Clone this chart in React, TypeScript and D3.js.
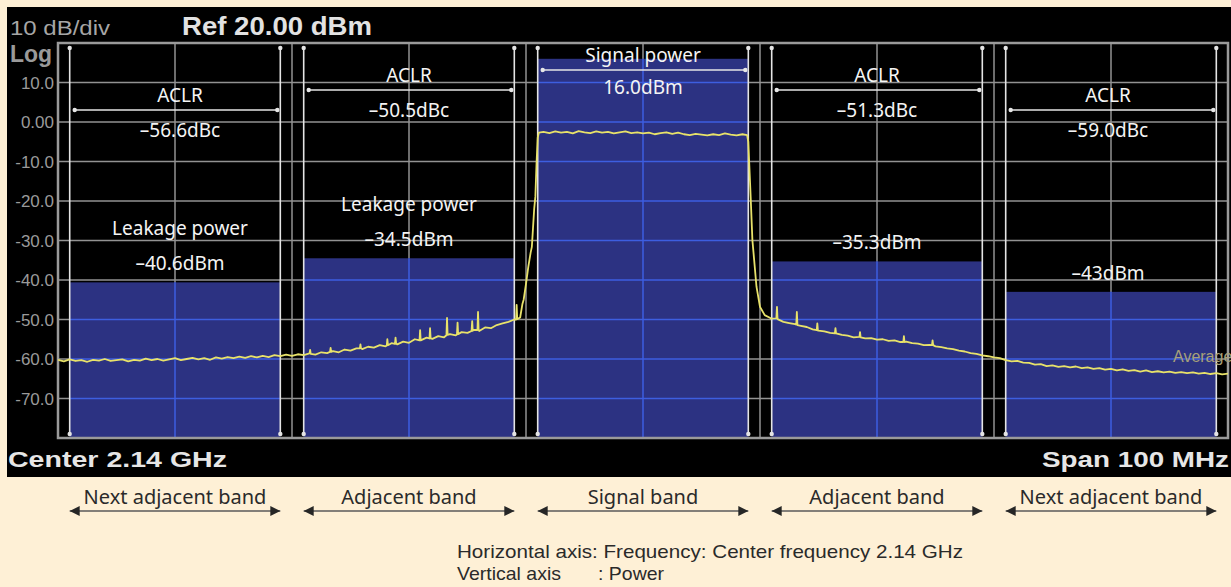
import * as d3 from "d3"

// spectrum analyzer ACLR screenshot, 10 dB/div, span 100 MHz
const W = 1231
const H = 587

const bandLabels = ["Next adjacent band", "Adjacent band", "Signal band", "Adjacent band", "Next adjacent band"]
const bandStartMHz = [-49, -29, -9, 11, 31]
const bandEndMHz = [-31, -11, 9, 29, 49]
const bandPowerDbm = [-40.6, -34.5, 16.0, -35.3, -43]
const powerText = ["–40.6dBm", "–34.5dBm", "16.0dBm", "–35.3dBm", "–43dBm"]
const aclrText = ["–56.6dBc", "–50.5dBc", "", "–51.3dBc", "–59.0dBc"]
const leakageShown = [true, true, false, false, false]

const yTickLabels = ["10.0", "0.00", "-10.0", "-20.0", "-30.0", "-40.0", "-50.0", "-60.0", "-70.0"]
const yTickValues = [10, 0, -10, -20, -30, -40, -50, -60, -70]

// trace: [MHz offset, dBm]
const traceLower: [number, number][] = [
    [-50, -60.2], [-49.5, -60.6], [-49, -60.1], [-48.5, -60.5], [-48, -60.3], [-47.5, -60.7], [-47, -60.2],
    [-46.5, -60.4], [-46, -60.0], [-45.5, -60.5], [-45, -60.3], [-44.5, -60.1], [-44, -60.6], [-43.5, -60.2],
    [-43, -60.4], [-42.5, -59.9], [-42, -60.3], [-41.5, -60.0], [-41, -60.4], [-40.5, -60.1], [-40, -59.8],
    [-39.5, -60.3], [-39, -60.0], [-38.5, -59.7], [-38, -60.1], [-37.5, -59.8], [-37, -60.2], [-36.5, -59.6],
    [-36, -59.9], [-35.5, -59.5], [-35, -59.8], [-34.5, -59.4], [-34, -59.7], [-33.5, -59.3], [-33, -59.6],
    [-32.5, -59.2], [-32, -59.5], [-31.5, -59.0], [-31, -59.3], [-30.5, -58.9], [-30, -59.2], [-29.5, -58.8],
    [-29, -59.0], [-28.5, -58.6], [-28.45, -57.7], [-28.4, -58.7], [-28, -58.9], [-27.5, -58.3], [-27, -58.5],
    [-26.75, -58.2], [-26.7, -57.2], [-26.65, -58.2], [-26.5, -58.0], [-26, -58.3], [-25.5, -57.6], [-25, -57.9],
    [-24.5, -57.3], [-24.2, -57.3], [-24.15, -56.3], [-24.1, -57.3], [-24, -57.5], [-23.5, -56.9], [-23, -57.1],
    [-22.5, -56.5], [-22, -56.8], [-21.9, -56.6], [-21.85, -55.0], [-21.8, -56.5], [-21.5, -56.0], [-21.2, -56.2],
    [-21.15, -54.6], [-21.1, -56.1], [-21, -56.3], [-20.5, -55.6], [-20, -55.9], [-19.5, -55.0], [-19.1, -55.3],
    [-19.05, -52.7], [-19, -55.3], [-18.5, -54.6], [-18.25, -54.8], [-18.2, -52.2], [-18.15, -54.8], [-18, -54.9],
    [-17.5, -54.2], [-17, -54.5], [-16.8, -54.0], [-16.75, -49.6], [-16.7, -53.9], [-16.5, -53.7], [-16, -54.0],
    [-15.9, -53.8], [-15.85, -50.8], [-15.8, -53.7], [-15.5, -53.2], [-15, -53.4], [-14.65, -52.9], [-14.6, -50.4],
    [-14.55, -52.9], [-14.5, -52.6], [-14.15, -52.7], [-14.1, -48.1], [-14.05, -52.6], [-14, -52.9], [-13.5, -52.0],
    [-13, -52.2], [-12.5, -51.4], [-12, -51.0], [-11.5, -50.6], [-11, -50.0], [-10.85, -50.0], [-10.8, -46.3],
    [-10.75, -49.9],
]

const traceMain: [number, number][] = [
    [-10.5, -49.5], [-10.3, -46.0], [-10.2, -45.0], [-10.0, -41.0], [-9.8, -36.6], [-9.6, -33.0], [-9.5, -31.6],
    [-9.3, -22.0], [-9.2, -18.9], [-9.1, -10.5], [-9.0, -4.0], [-8.9, -2.7], [-8.5, -2.5], [-8, -2.8], [-7.5, -2.4],
    [-7, -2.7], [-6.5, -2.5], [-6, -2.9], [-5.5, -2.3], [-5, -2.6], [-4.5, -2.8], [-4, -2.4], [-3.5, -2.7],
    [-3, -2.5], [-2.5, -2.9], [-2, -2.6], [-1.5, -2.4], [-1, -2.8], [-0.5, -2.6], [0, -2.9], [0.5, -2.7],
    [1, -3.1], [1.5, -2.8], [2, -2.6], [2.5, -3.0], [3, -2.7], [3.5, -3.1], [4, -3.3], [4.5, -3.0], [5, -3.2],
    [5.5, -3.4], [6, -3.1], [6.5, -3.3], [7, -2.9], [7.5, -3.2], [8, -3.4], [8.5, -3.1], [8.9, -3.3], [9.0, -5.0],
    [9.2, -18.9], [9.35, -29.9], [9.5, -34.9], [9.7, -41.7], [10.0, -46.8], [10.4, -48.9], [10.8, -49.5], [11.0, -49.8],
]

const traceUpper: [number, number][] = [
    [11.4, -49.7], [11.45, -46.8], [11.5, -49.9], [12, -50.6], [12.5, -50.9], [13, -51.2], [13.1, -51.3],
    [13.15, -48.1], [13.2, -51.4], [13.5, -51.6], [14, -51.9], [14.5, -52.5], [14.85, -52.7], [14.9, -51.0],
    [14.95, -52.8], [15, -52.8], [15.5, -53.0], [16, -53.4], [16.4, -53.5], [16.45, -52.2], [16.5, -53.5],
    [17, -53.9], [17.5, -54.1], [18, -54.5], [18.5, -54.4], [18.55, -53.2], [18.6, -54.5], [19, -54.8],
    [19.5, -54.7], [20, -55.1], [20.5, -55.0], [21, -55.4], [21.5, -55.3], [22, -55.7], [22.25, -55.7],
    [22.3, -54.2], [22.35, -55.7], [22.5, -55.6], [23, -56.0], [23.5, -56.1], [24, -56.5], [24.5, -56.4],
    [24.7, -56.5], [24.75, -55.3], [24.8, -56.5], [25, -56.8], [25.5, -57.0], [26, -57.3], [26.5, -57.5],
    [27, -57.9], [27.5, -58.1], [28, -58.5], [28.5, -58.7], [29, -59.1], [29.5, -59.3], [30, -59.6],
    [30.5, -59.8], [31, -60.3], [31.5, -60.6], [32, -60.5], [32.5, -60.9], [33, -61.0], [33.5, -61.4],
    [34, -61.3], [34.5, -61.8], [35, -61.6], [35.5, -62.0], [36, -61.8], [36.5, -62.1], [37, -61.9],
    [37.5, -62.3], [38, -62.1], [38.5, -62.5], [39, -62.3], [39.5, -62.7], [40, -62.5], [40.5, -62.9],
    [41, -62.6], [41.5, -63.0], [42, -62.8], [42.5, -63.2], [43, -62.9], [43.5, -63.3], [44, -63.1],
    [44.5, -63.4], [45, -63.2], [45.5, -63.5], [46, -63.3], [46.5, -63.6], [47, -63.4], [47.5, -63.7],
    [48, -63.5], [48.5, -63.8], [49, -63.6], [49.5, -63.9], [50, -63.7],
]

const instFont = "'Liberation Sans', Arial, sans-serif"
const noteFont = "'Noto Sans', 'Open Sans', sans-serif"

// annotation layout per band: y of the ACLR marker line (px) and x nudge
const markerY = [110, 90, 70, 90, 110]
const labelDx = [5, 0, 0, 0, -3]

export default function App() {
    const x = d3.scaleLinear().domain([-50, 50]).range([58, 1228])
    const y = d3.scaleLinear().domain([-80, 20]).range([438, 43])
    const [x0, x1] = x.range()
    const [yb, yt] = y.range()

    const gridX = d3.range(-40, 50, 10)
    const gridY = d3.range(-70, 20, 10)

    const trace = [...traceLower, ...traceMain, ...traceUpper]
    const line = d3.line<[number, number]>()
        .x(d => x(d[0]))
        .y(d => y(d[1]))

    const bands = bandLabels.map((label, i) => ({
        label,
        lo: x(bandStartMHz[i]),
        hi: x(bandEndMHz[i]),
        mid: x((bandStartMHz[i] + bandEndMHz[i]) / 2),
        top: y(bandPowerDbm[i]),
        i,
    }))

    return (
        <svg width={W} height={H} style={{ position: "fixed", left: 0, top: 0, background: "#fef0d6" }}>
            <defs>
                <clipPath id="frame">
                    <rect x={x0} y={yt} width={x1 - x0} height={yb - yt} />
                </clipPath>
                <clipPath id="fills">
                    {bands.map(b => (
                        <rect key={b.i} x={b.lo} y={b.top} width={b.hi - b.lo} height={yb - b.top} />
                    ))}
                </clipPath>
                <marker id="ah" viewBox="0 0 10 10" refX="10" refY="5" markerWidth="11" markerHeight="10" orient="auto-start-reverse" markerUnits="userSpaceOnUse">
                    <path d="M0,0 L10,5 L0,10 Z" fill="#262626" />
                </marker>
            </defs>

            <rect x={7} y={7} width={W - 7} height={477 - 7} fill="#000" />

            {/* header */}
            <text x={10} y={35} fontFamily={instFont} fontSize={20} fill="#a6a6a6" textLength={100} lengthAdjust="spacingAndGlyphs">10 dB/div</text>
            <text x={182} y={35} fontFamily={instFont} fontSize={25} fontWeight="bold" fill="#e2e2e2" textLength={190} lengthAdjust="spacingAndGlyphs">Ref 20.00 dBm</text>
            <text x={10} y={62} fontFamily={instFont} fontSize={23} fontWeight={600} fill="#9a9a9a">Log</text>
            {yTickValues.map((v, i) => (
                <text key={v} x={54} y={y(v)} dy="0.36em" textAnchor="end" fontFamily={instFont} fontSize={17} fill="#9a9a9a">{yTickLabels[i]}</text>
            ))}

            {/* gray grid */}
            <g stroke="#929292" strokeWidth={1.5}>
                {gridX.map(f => <line key={"gx" + f} x1={x(f)} x2={x(f)} y1={yt} y2={yb} />)}
                {gridY.map(v => <line key={"gy" + v} x1={x0} x2={x1} y1={y(v)} y2={y(v)} />)}
            </g>

            {/* band power fills */}
            {bands.map(b => (
                <rect key={"f" + b.i} x={b.lo} y={b.top} width={b.hi - b.lo} height={yb - b.top} fill="#2c3282" />
            ))}
            <g stroke="#3d5ee0" strokeWidth={1.5} clipPath="url(#fills)">
                {gridX.map(f => <line key={"bx" + f} x1={x(f)} x2={x(f)} y1={yt} y2={yb} />)}
                {gridY.map(v => <line key={"by" + v} x1={x0} x2={x1} y1={y(v)} y2={y(v)} />)}
            </g>

            <rect x={x0} y={yt} width={x1 - x0} height={yb - yt} fill="none" stroke="#9a9a9a" strokeWidth={2.5} />

            {/* band edges */}
            {bands.map(b => (
                <g key={"e" + b.i} stroke="#e4e4e4" fill="#e4e4e4">
                    <line x1={b.lo} x2={b.lo} y1={yt + 4} y2={yb - 4} strokeWidth={1.6} />
                    <line x1={b.hi} x2={b.hi} y1={yt + 4} y2={yb - 4} strokeWidth={1.6} />
                    <circle cx={b.lo} cy={yt + 5} r={2.2} stroke="none" />
                    <circle cx={b.hi} cy={yt + 5} r={2.2} stroke="none" />
                    <circle cx={b.lo} cy={yb - 4} r={2.2} stroke="none" />
                    <circle cx={b.hi} cy={yb - 4} r={2.2} stroke="none" />
                </g>
            ))}

            {/* trace */}
            <path d={line(trace) ?? ""} fill="none" stroke="#e8e26a" strokeWidth={1.8} strokeLinejoin="round" clipPath="url(#frame)" />
            <text x={1173} y={362} fontFamily={instFont} fontSize={16} fill="#a7a17a">Average</text>

            {/* annotations */}
            {bands.map(b => {
                const my = markerY[b.i]
                const cx = b.mid + labelDx[b.i]
                const isSignal = b.i === 2
                return (
                    <g key={"a" + b.i} fontFamily={noteFont} fontSize={19} fill="#f4f4f4" textAnchor="middle">
                        <line x1={b.lo + 5} x2={b.hi - 3} y1={my} y2={my} stroke="#e6e6e6" strokeWidth={1.6} />
                        <circle cx={b.lo + 5} cy={my} r={2.2} fill="#e6e6e6" />
                        <circle cx={b.hi - 3} cy={my} r={2.2} fill="#e6e6e6" />
                        <text x={cx} y={my - 15} dy="0.36em">{isSignal ? "Signal power" : "ACLR"}</text>
                        {isSignal
                            ? <text x={cx} y={my + 17} dy="0.36em">{powerText[b.i]}</text>
                            : <text x={cx} y={my + 20} dy="0.36em">{aclrText[b.i]}</text>}
                        {!isSignal && <text x={cx} y={b.top - 19} dy="0.36em">{powerText[b.i]}</text>}
                        {leakageShown[b.i] && <text x={cx} y={b.top - 54} dy="0.36em">Leakage power</text>}
                    </g>
                )
            })}

            {/* footer */}
            <text x={8} y={467} fontFamily={instFont} fontSize={22} fontWeight="bold" fill="#e6e6e6" textLength={219} lengthAdjust="spacingAndGlyphs">{"Center  2.14 GHz"}</text>
            <text x={1229} y={467} textAnchor="end" fontFamily={instFont} fontSize={22} fontWeight="bold" fill="#e6e6e6" textLength={187} lengthAdjust="spacingAndGlyphs">Span 100 MHz</text>

            {bands.map(b => (
                <g key={"l" + b.i}>
                    <text x={b.mid} y={504} textAnchor="middle" fontFamily={noteFont} fontSize={20} fill="#2a2a2a">{b.label}</text>
                    <line x1={b.lo} x2={b.hi} y1={511} y2={511} stroke="#5a5a5a" strokeWidth={1.5} markerStart="url(#ah)" markerEnd="url(#ah)" />
                </g>
            ))}

            <text x={457} y={558} fontFamily={instFont} fontSize={19} fill="#2a2a2a" textLength={506} lengthAdjust="spacingAndGlyphs">Horizontal axis: Frequency: Center frequency 2.14 GHz</text>
            <text x={457} y={580} fontFamily={instFont} fontSize={19} fill="#2a2a2a" textLength={104} lengthAdjust="spacingAndGlyphs">Vertical axis</text>
            <text x={598} y={580} fontFamily={instFont} fontSize={19} fill="#2a2a2a" textLength={66} lengthAdjust="spacingAndGlyphs">: Power</text>
        </svg>
    )
}
